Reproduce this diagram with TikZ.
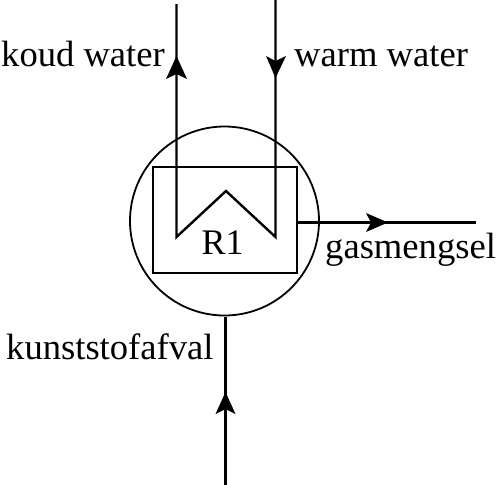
\documentclass[tikz,border=0pt]{standalone}
\usepackage{fontspec}
\setmainfont{Liberation Serif}
\begin{document}
\begin{tikzpicture}[x=1pt,y=-1pt,
 line/.style={line width=2.4pt,black},
 lbl/.style={font=\fontsize{36.6}{40}\selectfont,inner sep=0pt,anchor=base west},
 tip/.style={fill=black,draw=none}]
\useasboundingbox (0,0) rectangle (496,485);
\coordinate (cwt) at (176.5,4);
\coordinate (cwb) at (176.5,237);
\coordinate (wwt) at (275.5,0);
\coordinate (wwb) at (275.5,237);
\coordinate (peak) at (226,191);
\coordinate (gasa) at (298,222.5);
\coordinate (gasb) at (476,222.5);
\coordinate (ka) at (225.5,317);
\coordinate (kb) at (225.5,485);
\node[draw,circle,line width=1.8pt,minimum size=189pt,inner sep=0pt] (vessel) at (224.5,221) {};
\node[draw,line width=1.8pt,minimum width=144pt,minimum height=106pt,inner sep=0pt] (box) at (225,220) {};
\draw[line,line join=miter] (cwt) -- (cwb) -- (peak) -- (wwb) -- (wwt);
\draw[line] (gasa) -- (gasb);
\draw[line] (ka) -- (kb);
\fill[tip] (176.5,56) -- (187,79) -- (176.5,74) -- (166,79) -- cycle;
\fill[tip] (275.5,78) -- (266,56) -- (275.5,61) -- (286,56) -- cycle;
\fill[tip] (388,222.5) -- (366,213) -- (371,222.5) -- (366,232) -- cycle;
\fill[tip] (225.5,392) -- (235.5,414) -- (225.5,409) -- (215.5,414) -- cycle;
\node[lbl] (t1) at (1,66) {koud water};
\node[lbl] (t2) at (294,66) {warm water};
\node[lbl] (t3) at (325,258) {gasmengsel};
\node[lbl] (t4) at (6,359) {kunststofafval};
\node[lbl,font=\fontsize{36}{38}\selectfont] (r1) at (201.5,254) {R1};
\end{tikzpicture}
\end{document}
